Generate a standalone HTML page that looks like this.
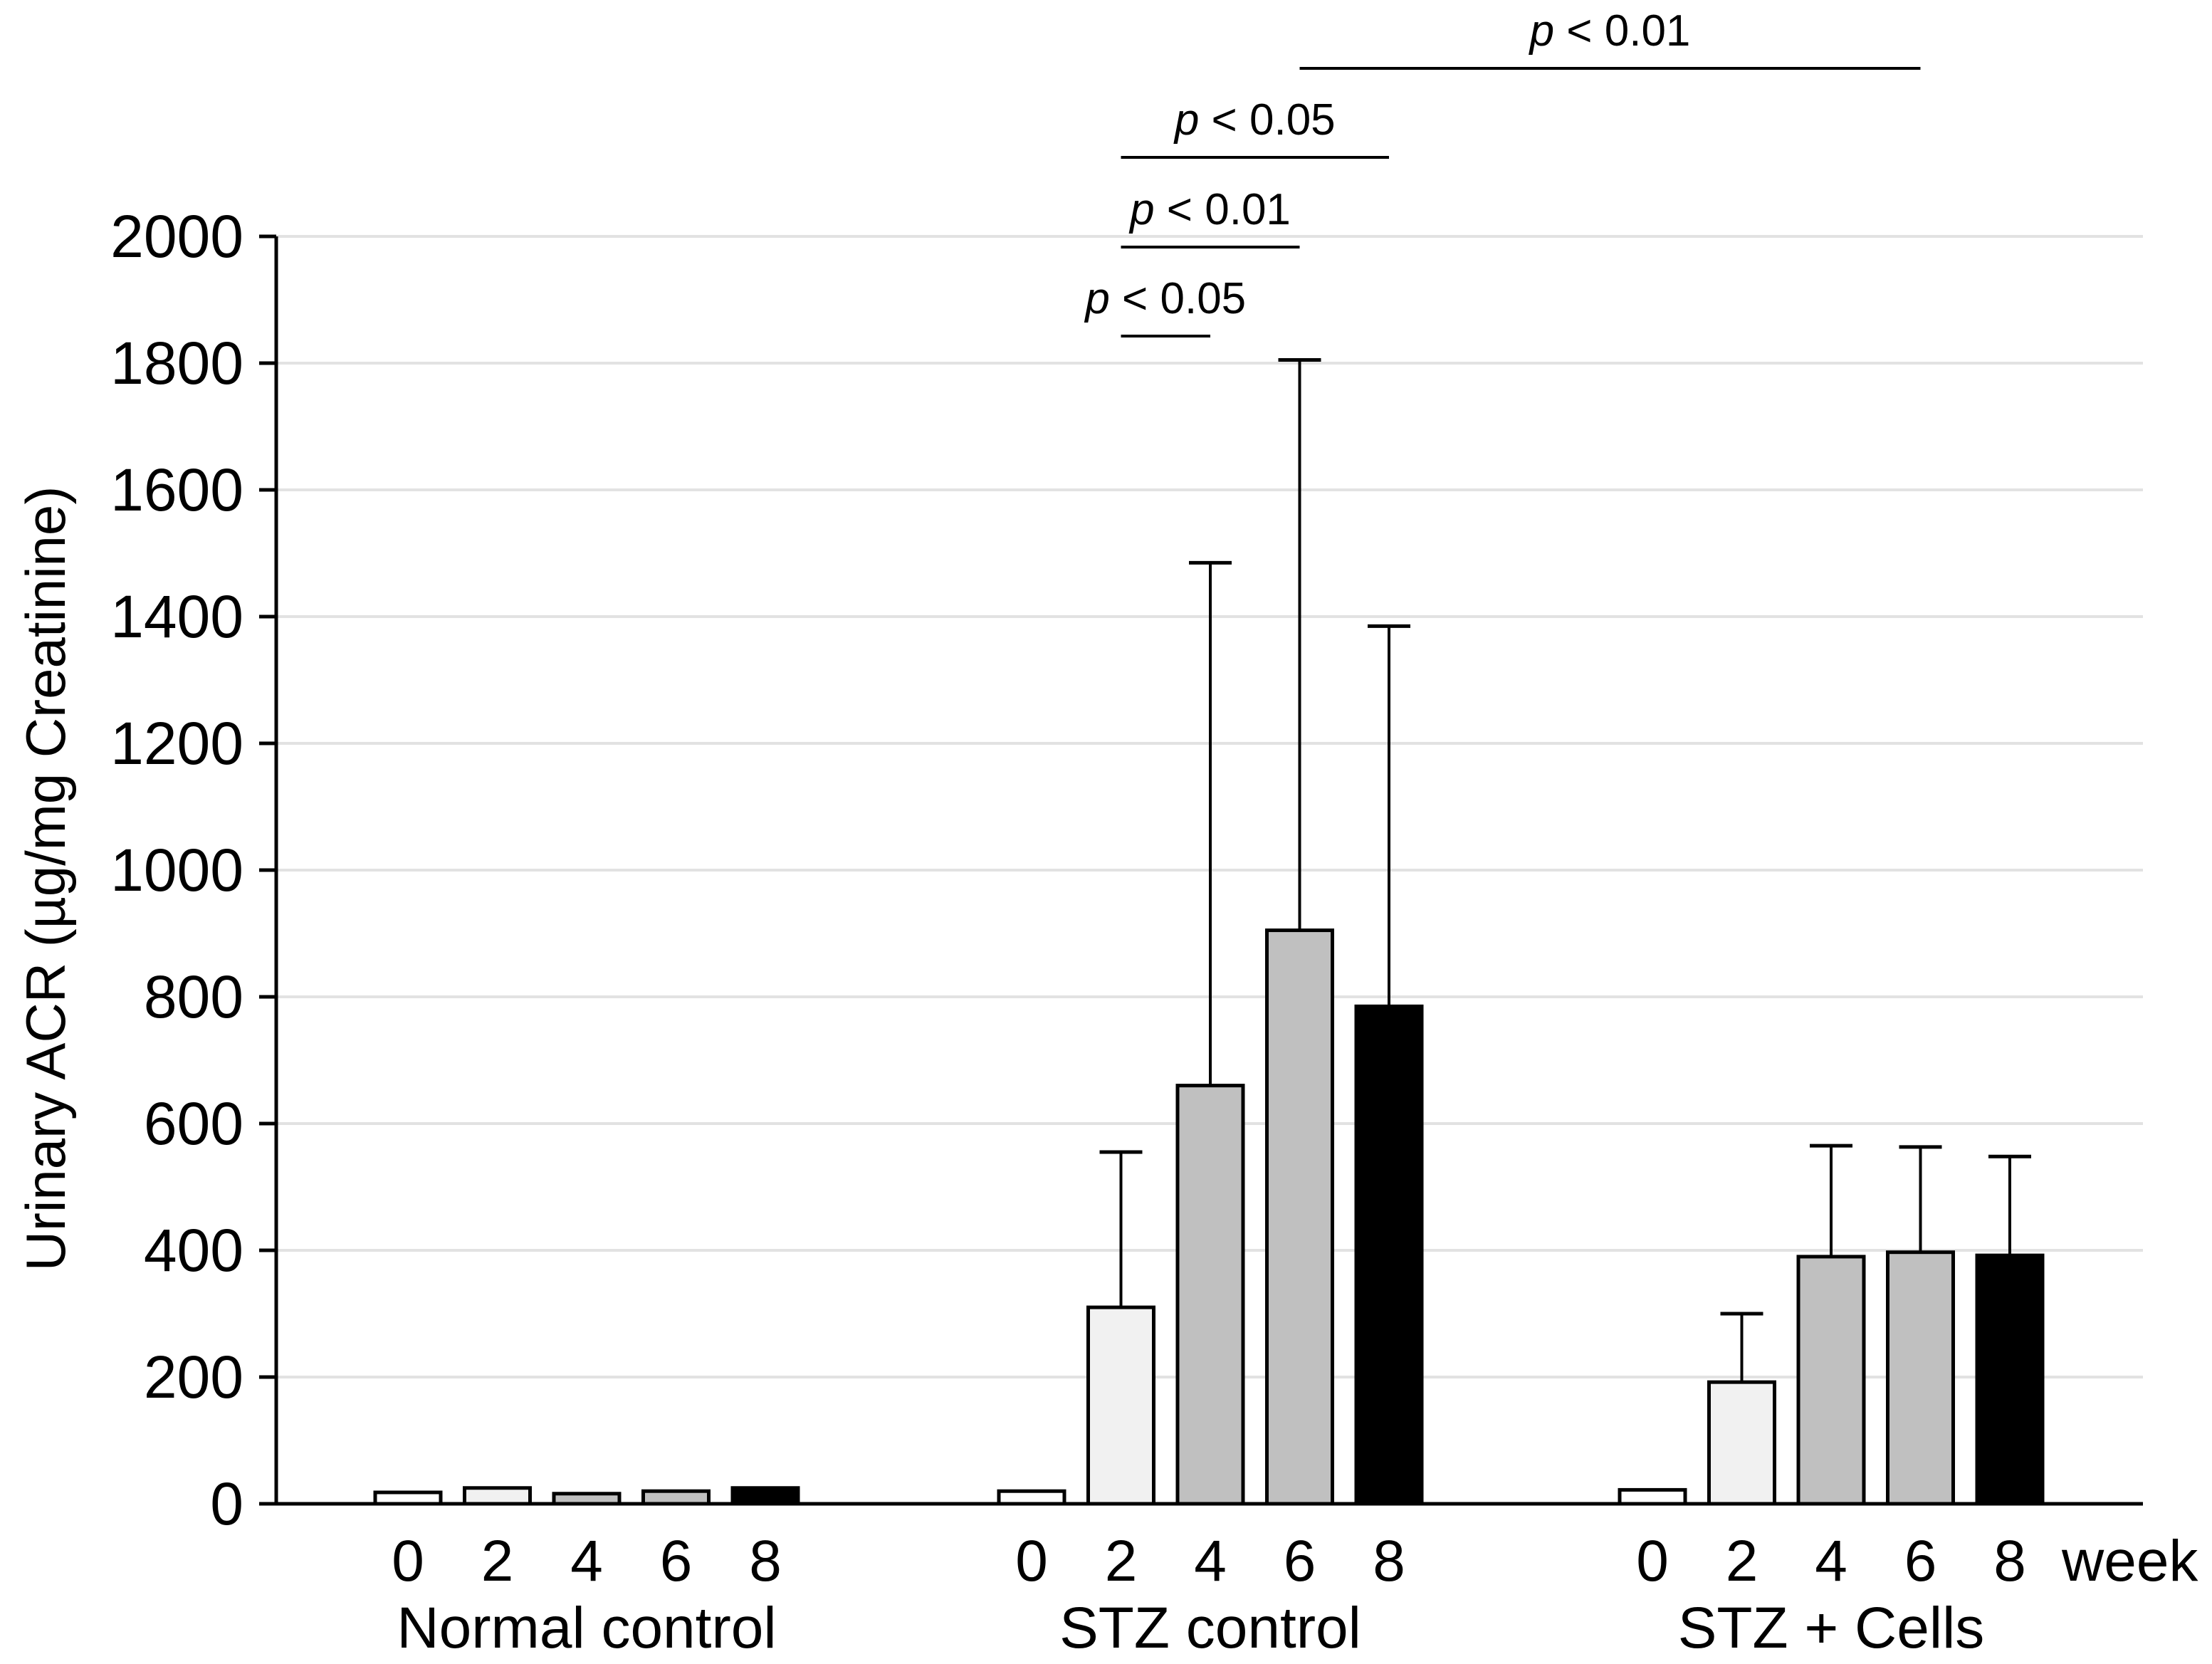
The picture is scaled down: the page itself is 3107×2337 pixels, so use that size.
<!DOCTYPE html>
<html><head><meta charset="utf-8"><style>
html,body{margin:0;padding:0;background:#fff;}
svg{display:block;font-family:"Liberation Sans",sans-serif;}
</style></head><body>
<svg id="chart" width="3107" height="2337" viewBox="0 0 3107 2337" xmlns="http://www.w3.org/2000/svg">
<g id="grid"></g>
<g id="bars"></g>
<g id="axes"></g>
<g id="sig"></g>
<text transform="translate(64,1234) rotate(-90)" text-anchor="middle" dominant-baseline="central" font-size="78">Urinary ACR (µg/mg Creatinine)</text>
</svg>
<script>
const groups = ["Normal control", "STZ control", "STZ + Cells"];
const weeks = ["0", "2", "4", "6", "8"];
const normalMeans = [18, 25, 16, 20, 25];
const stzMeans = [20, 310, 660, 905, 785];
const cellsMeans = [22, 192, 390, 397, 392];
const normalErrTop = [null, null, null, null, null];
const stzErrTop = [null, 555, 1485, 1805, 1385];
const cellsErrTop = [null, 300, 565, 563, 548];
const yTicks = [0, 200, 400, 600, 800, 1000, 1200, 1400, 1600, 1800, 2000];
const sigLabels = ["p < 0.05", "p < 0.01", "p < 0.05", "p < 0.01"];
const sigFrom = [[1, 1], [1, 1], [1, 1], [1, 3]];
const sigTo = [[1, 2], [1, 3], [1, 4], [2, 3]];
const sigLevel = [0, 1, 2, 3];

const NS = "http://www.w3.org/2000/svg";
const y0 = 2112, yTop = 332, yMax = 2000;
const axisX = 388, axisRight = 3010;
const groupStart = [573, 1449, 2321], step = 125.5, barW = 92;
const fills = ["#ffffff", "#f1f1f1", "#c0c0c0", "#c0c0c0", "#000000"];
function y(v){ return y0 - (v / yMax) * (y0 - yTop); }
function x(g, i){ return groupStart[g] + i * step; }
function mk(tag, attrs, parent){ const e = document.createElementNS(NS, tag); for (const k in attrs) e.setAttribute(k, attrs[k]); parent.appendChild(e); return e; }

const grid = document.getElementById('grid'), axes = document.getElementById('axes'), bars = document.getElementById('bars'), sig = document.getElementById('sig');
yTicks.forEach(t => {
  if (t > 0) {
    const l = mk('line', {x1: axisX, x2: axisRight, y1: y(t), y2: y(t), stroke: '#e2e2e2', 'stroke-width': 4}, grid);
    
    
  }
  const tk = mk('line', {x1: axisX - 24, x2: axisX, y1: y(t), y2: y(t), stroke: '#000', 'stroke-width': 5}, axes);
  
  
  const tx = mk('text', {x: axisX - 46, y: y(t), 'text-anchor': 'end', 'dominant-baseline': 'central', 'font-size': 84}, axes);
  tx.textContent = t;
  
  
});
const ya = mk('line', {x1: axisX, x2: axisX, y1: yTop, y2: y0, stroke: '#000', 'stroke-width': 5}, axes);



const means = [normalMeans, stzMeans, cellsMeans];
const errs = [normalErrTop, stzErrTop, cellsErrTop];
means.forEach((arr, g) => {
  arr.forEach((v, i) => {
    const cx = x(g, i);
    const e = errs[g][i];
    if (e !== null) {
      const el = mk('line', {x1: cx, x2: cx, y1: y(e), y2: y(v), stroke: '#000', 'stroke-width': 4}, bars);
      
      
      const cap = mk('line', {x1: cx - 30, x2: cx + 30, y1: y(e), y2: y(e), stroke: '#000', 'stroke-width': 5}, bars);
      
      
    }
    const r = mk('rect', {x: cx - barW / 2, y: y(v), width: barW, height: y0 - y(v), fill: fills[i], stroke: '#000', 'stroke-width': 5}, bars);
    
    
    const wl = mk('text', {x: cx, y: 2220, 'text-anchor': 'middle', 'font-size': 82}, axes);
    wl.textContent = weeks[i];
    
    
  });
  const gl = mk('text', {x: x(g, 2), y: 2314, 'text-anchor': 'middle', 'font-size': 82}, axes);
  gl.textContent = groups[g];
  
  
});
const wk = mk('text', {x: 2896, y: 2220, 'font-size': 82}, axes);
wk.textContent = 'week';


const xa = mk('line', {x1: axisX, x2: axisRight, y1: y0, y2: y0, stroke: '#000', 'stroke-width': 5}, axes);



const sigY = [472, 347, 221, 96];
sigLabels.forEach((lab, k) => {
  const xa1 = x(sigFrom[k][0], sigFrom[k][1]), xa2 = x(sigTo[k][0], sigTo[k][1]);
  const ly = sigY[sigLevel[k]];
  const l = mk('line', {x1: xa1, x2: xa2, y1: ly, y2: ly, stroke: '#000', 'stroke-width': 4}, sig);
  
  
  const t = mk('text', {x: (xa1 + xa2) / 2, y: ly - 32, 'text-anchor': 'middle', 'font-size': 62}, sig);
  t.innerHTML = '<tspan font-style="italic">p</tspan>' + lab.slice(1);
  
  
});
</script>
</body></html>
